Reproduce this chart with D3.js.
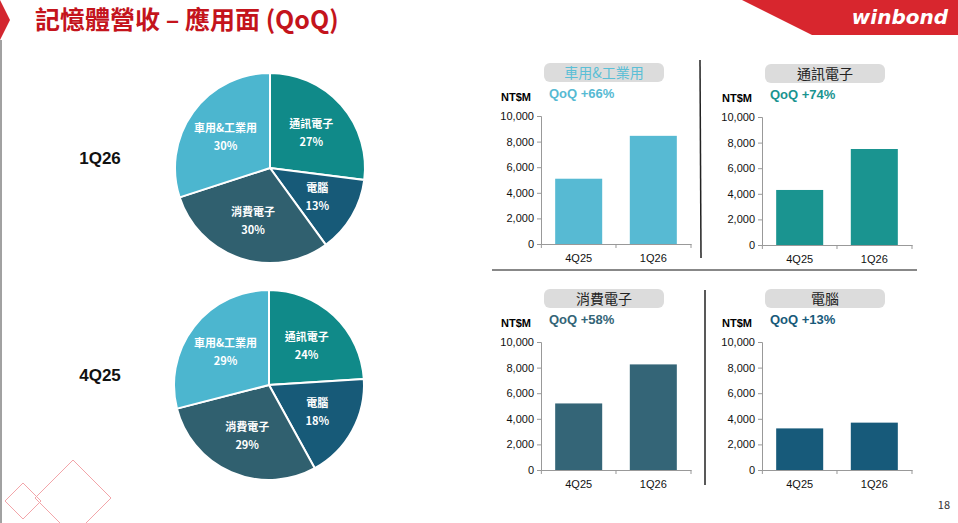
<!DOCTYPE html>
<html><head><meta charset="utf-8">
<script src="https://cdn.jsdelivr.net/npm/d3@7"></script>
<style>body{margin:0;background:#fff}svg{display:block;font-family:"Noto Sans CJK TC","Noto Sans",sans-serif}</style>
</head><body>
<svg id="c" width="958" height="523"></svg>
<script>
const segments = ["通訊電子", "電腦", "消費電子", "車用&工業用"];
const share1Q26 = [27, 13, 30, 30];
const share4Q25 = [24, 18, 29, 29];
const quarters = ["4Q25", "1Q26"];
const autoRev = [5100, 8450];
const commRev = [4300, 7500];
const consRev = [5200, 8250];
const pcRev = [3250, 3700];
const qoq = ["+66%", "+74%", "+58%", "+13%"];
const yTicks = [0, 2000, 4000, 6000, 8000, 10000];

const segColor = {"通訊電子": "#108a89", "電腦": "#175a78", "消費電子": "#30606f", "車用&工業用": "#4cb6cf"};
const barColor = ["#57bad3", "#1a9490", "#346577", "#175a7a"];

const svg = d3.select("#c");

// header
svg.append("path").attr("d", "M0,0L10,20L0,40Z").attr("fill", "#d3262f");
svg.append("line").attr("x1", 1).attr("x2", 1).attr("y1", 40).attr("y2", 523).attr("stroke", "#444").attr("stroke-width", 1);
svg.append("text").attr("x", 35).attr("y", 29).text("記憶體營收 – 應用面 (QoQ)")
  .attr("fill", "#c4141c").attr("font-size", 25).attr("font-weight", "bold");
svg.append("path").attr("d", "M742,0L958,0L958,35L812,35Z").attr("fill", "#d8262e");
svg.append("text").attr("x", 948).attr("y", 24).attr("text-anchor", "end").text("winbond")
  .attr("fill", "#fff").attr("font-size", 20).attr("font-weight", "bold").attr("font-style", "italic")
  .attr("font-family", "DejaVu Sans");
svg.append("text").attr("x", 950).attr("y", 509).attr("text-anchor", "end").text("18")
  .attr("font-size", 11).attr("fill", "#333");

// decoration
[[5, 483, 18], [35, 460, 38]].forEach(([x, y, s]) => {
  svg.append("path").attr("d", `M${x},${y + s}L${x + s},${y}L${x + 2 * s},${y + s}L${x + s},${y + 2 * s}Z`)
    .attr("fill", "none").attr("stroke", "#f2a5a9").attr("stroke-width", 1);
});

// pies
const pie = d3.pie().sort(null).value(d => d.v);
const arc = d3.arc().innerRadius(0).outerRadius(95);
const labelArc = d3.arc().innerRadius(55).outerRadius(55);
function drawPie(cx, cy, shares, label) {
  const g = svg.append("g").attr("transform", `translate(${cx},${cy})`);
  const data = pie(segments.map((s, i) => ({s, v: shares[i]})));
  g.selectAll("path").data(data).join("path").attr("d", arc)
    .attr("fill", d => segColor[d.data.s]).attr("stroke", "#fff").attr("stroke-width", 2);
  const t = g.selectAll("text").data(data).join("text")
    .attr("transform", d => `translate(${labelArc.centroid(d)})`)
    .attr("text-anchor", "middle").attr("fill", "#fff").attr("font-size", 11).attr("font-weight", "bold");
  t.append("tspan").attr("x", 0).attr("dy", -4).text(d => d.data.s);
  t.append("tspan").attr("x", 0).attr("dy", 18).text(d => d.data.v + "%");
  svg.append("text").attr("x", 100).attr("y", cy - 4).attr("text-anchor", "middle").text(label)
    .attr("font-size", 17).attr("font-weight", "bold").attr("fill", "#111").attr("font-family", "Liberation Sans");
}
drawPie(270, 168, share1Q26, "1Q26");
drawPie(269, 385, share4Q25, "4Q25");

// bars
function drawBar(x0, y0, title, vals, color, q, titleColor) {
  const x = d3.scaleBand().domain(quarters).range([x0, x0 + 150]).paddingInner(0.37).paddingOuter(0.19);
  const y = d3.scaleLinear().domain([0, 10000]).range([y0, y0 - 128]);
  svg.append("rect").attr("x", x0 + 3).attr("y", y0 - 181).attr("width", 120).attr("height", 19).attr("rx", 6).attr("fill", "#dcdcdc");
  svg.append("text").attr("x", x0 + 63).attr("y", y0 - 166).attr("text-anchor", "middle").text(title)
    .attr("font-size", 14).attr("fill", titleColor);
  svg.append("text").attr("x", x0 - 40).attr("y", y0 - 143).text("NT$M").attr("font-size", 11).attr("font-weight", "bold")
    .attr("font-family", "Liberation Sans");
  svg.append("text").attr("x", x0 + 8).attr("y", y0 - 146).text("QoQ " + q).attr("font-size", 13).attr("font-weight", "bold")
    .attr("fill", color).attr("font-family", "Liberation Sans");
  svg.selectAll(null).data(vals).join("rect").attr("x", (d, i) => x(quarters[i])).attr("y", d => y(d))
    .attr("width", x.bandwidth()).attr("height", d => y0 - y(d)).attr("fill", color);
  const ay = svg.append("g").attr("transform", `translate(${x0},0)`)
    .call(d3.axisLeft(y).tickValues(yTicks).tickFormat(d3.format(",")).tickSize(4));
  const ax = svg.append("g").attr("transform", `translate(0,${y0})`)
    .call(d3.axisBottom(x).tickSize(0).tickPadding(10));
  ax.selectAll(".tick").append("line").attr("x1", -x.step() / 2).attr("x2", -x.step() / 2).attr("y2", 4).attr("stroke", "#999");
  ax.append("line").attr("x1", x0 + 150).attr("x2", x0 + 150).attr("y2", 4).attr("stroke", "#999");
  [ay, ax].forEach(a => {
    a.selectAll("path,line").attr("stroke", "#999");
    a.selectAll("text").attr("font-size", 11).attr("fill", "#111").attr("font-family", "Liberation Sans");
  });
}
drawBar(541, 244, "車用&工業用", autoRev, barColor[0], qoq[0], "#5bbfd6");
drawBar(762, 245, "通訊電子", commRev, barColor[1], qoq[1], "#222");
drawBar(541, 470, "消費電子", consRev, barColor[2], qoq[2], "#222");
drawBar(762, 470, "電腦", pcRev, barColor[3], qoq[3], "#222");

// dividers
svg.append("line").attr("x1", 700).attr("x2", 701).attr("y1", 60).attr("y2", 258).attr("stroke", "#222").attr("stroke-width", 1.5);
svg.append("line").attr("x1", 492).attr("x2", 917).attr("y1", 270).attr("y2", 270).attr("stroke", "#888").attr("stroke-width", 2);
svg.append("line").attr("x1", 705).attr("x2", 705).attr("y1", 290).attr("y2", 485).attr("stroke", "#222").attr("stroke-width", 1.5);
</script>
</body></html>
